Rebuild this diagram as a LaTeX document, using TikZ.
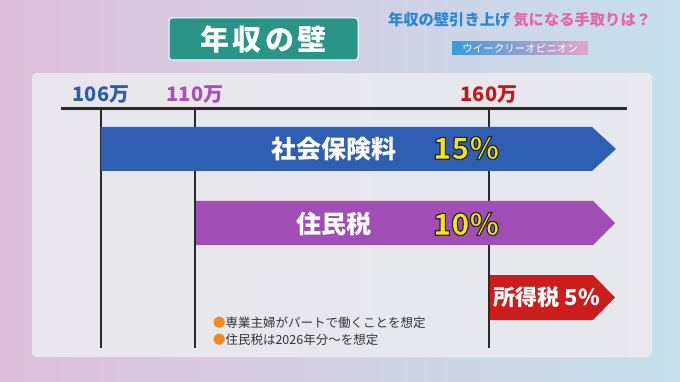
\documentclass[tikz,border=0pt]{standalone}
\usepackage{fontspec}
\setmainfont{Noto Sans CJK JP}
\usetikzlibrary{positioning}
\definecolor{bgpink}{HTML}{DDBFDB}
\definecolor{bglav}{HTML}{D6D5E8}
\definecolor{bgblue}{HTML}{C6E0EC}
\definecolor{panelgray}{HTML}{EAEAEE}
\definecolor{titleteal}{HTML}{2A9488}
\definecolor{subblue}{HTML}{2B86D6}
\definecolor{subpink}{HTML}{E466A8}
\definecolor{tagblue}{HTML}{3E9AD8}
\definecolor{tagpink}{HTML}{E2A6C8}
\definecolor{barblue}{HTML}{2F5FB3}
\definecolor{barpurple}{HTML}{A04DB5}
\definecolor{barred}{HTML}{CC1C1C}
\definecolor{lblblue}{HTML}{2F5DA8}
\definecolor{lblpurple}{HTML}{A650B8}
\definecolor{lblred}{HTML}{C41818}
\definecolor{pctyellow}{HTML}{F0E41E}
\definecolor{dotorange}{HTML}{F08C1E}
\definecolor{axisgray}{HTML}{2A2A2A}
\tikzset{
  pct/.style={text=pctyellow,font=\fontsize{30}{30}\selectfont\bfseries},
  barlabel/.style={text=white,font=\fontsize{25}{25}\selectfont\bfseries},
  ticklabel/.style={font=\fontsize{20}{20}\selectfont\bfseries},
  notetext/.style={anchor=west,text=black!80,font=\fontsize{12.5}{12.5}\selectfont}
}
\newcommand\outlined[1]{\special{pdf:literal direct 2 Tr 1.2 w 0.15 0.15 0.15 RG}#1\special{pdf:literal direct 0 Tr}}
\begin{document}
\begin{tikzpicture}[x=1pt,y=-1pt,every node/.style={inner sep=0pt,outer sep=0pt}]
  \useasboundingbox (0,0) rectangle (680,382);
  \shade[left color=bgpink,middle color=bglav,right color=bgblue] (0,0) rectangle (680,382);
  \fill[panelgray,opacity=.92,rounded corners=4pt] (32,73) rectangle (652,357);
  \node[fill=titleteal,draw=white!85,line width=1pt,rounded corners=3pt,minimum width=189pt,minimum height=42pt,text=white,
        font=\fontsize{29}{29}\selectfont\bfseries\addfontfeature{LetterSpace=12}] (title) at (263.5,39) {年収の壁};
  \node[anchor=west,font=\fontsize{15.3}{15.3}\selectfont\bfseries] (subtitle) at (388,20)
        {\textcolor{subblue}{年収の壁引き上げ}\hspace{3pt}\textcolor{subpink}{気になる手取りは？}};
  \node[left color=tagblue,right color=tagpink,minimum width=136pt,minimum height=13pt,text=white,
        font=\fontsize{10.5}{10.5}\selectfont] (tag) at (520,48.5) {ウイークリーオピニオン};
  \coordinate (axL) at (61,109); \coordinate (axR) at (627,109);
  \draw[axisgray,line width=3pt] (axL)--(axR);
  \foreach \x/\val/\col/\nm in {101/106/lblblue/a,195/110/lblpurple/b,489/160/lblred/c}{
    \draw[axisgray,line width=2pt] (\x,109)--(\x,348);
    \node[ticklabel,text=\col] (yen\nm) at (\x,95) {\val 万};
  }
  \fill[barblue] (101,127)--(592,127)--(616,149)--(592,171)--(101,171)--cycle;
  \fill[barpurple] (196,201)--(593,201)--(615,223)--(593,245)--(196,245)--cycle;
  \fill[barred] (490,275)--(593,275)--(615,297.5)--(593,320)--(490,320)--cycle;
  \node[barlabel] (shakai) at (334,149) {社会保険料};
  \node[pct] (pctA) at (466,148) {\outlined{15\%}};
  \node[barlabel] (jumin) at (334,224) {住民税};
  \node[pct] (pctB) at (466,224) {\outlined{10\%}};
  \node[barlabel,font=\fontsize{22}{22}\selectfont\bfseries] (shotoku) at (547,297.5) {所得税 5\%};
  \node[notetext] (note1) at (213,323) {\textcolor{dotorange}{●}専業主婦がパートで働くことを想定};
  \node[notetext] (note2) at (213,340) {\textcolor{dotorange}{●}住民税は2026年分〜を想定};
\end{tikzpicture}
\end{document}
